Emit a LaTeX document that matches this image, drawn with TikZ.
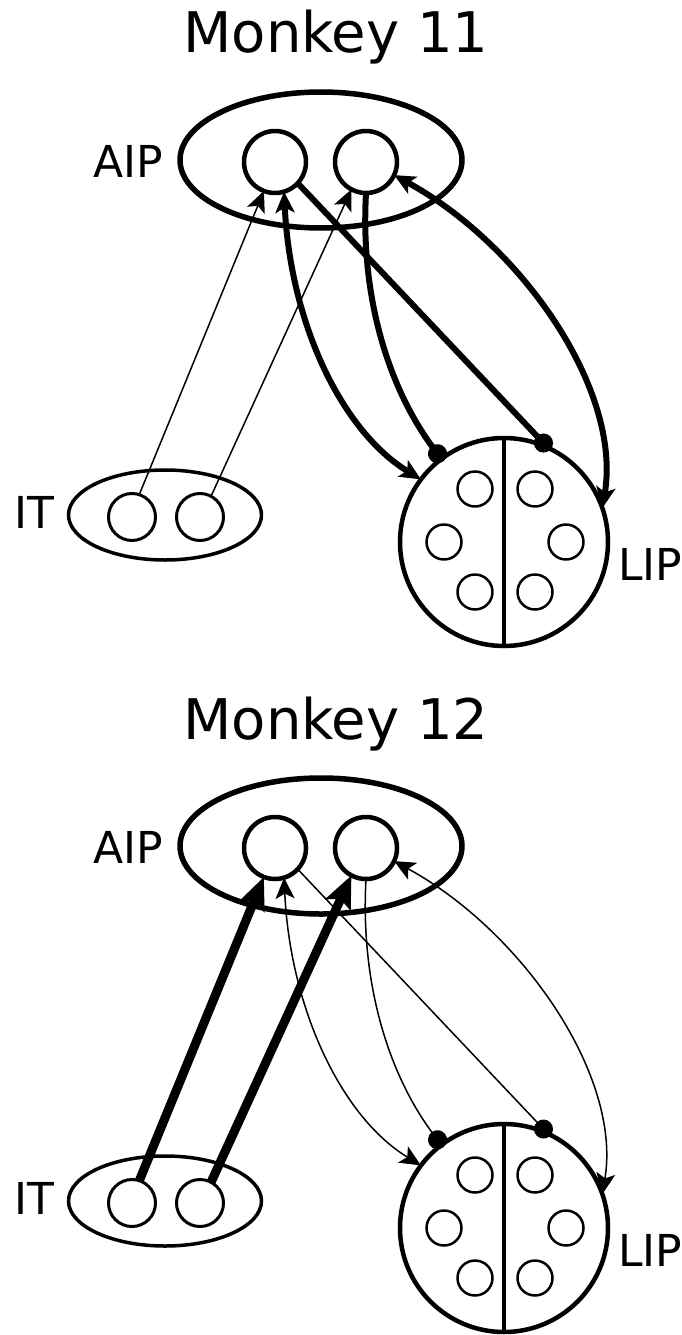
\documentclass[tikz,border=0pt]{standalone}
\usepackage{fontspec}
\setmainfont{DejaVu Sans}
\usetikzlibrary{arrows.meta,shapes.geometric}

\tikzset{
  area/.style={ellipse, draw, inner sep=0pt, outer sep=0pt},
  unit/.style={circle, draw, inner sep=0pt, outer sep=0pt},
  title/.style={font=\fontsize{56}{60}\selectfont, inner sep=0pt, anchor=base},
  arealabel/.style={font=\fontsize{44}{48}\selectfont, inner sep=0pt},
  thinconn/.style={line width=1.5pt},
  thickconn/.style={line width=6pt},
  heavyconn/.style={line width=9pt, >={Stealth[length=32pt,width=27pt,inset=6pt]}},
  dotend/.style={-{Circle[length=19pt]}, shorten >=-3pt},
  >={Stealth[length=21pt,width=19pt,inset=5pt]}
}

% One panel: #1 name prefix, #2 title, #3 vertical offset,
% #4 style of the IT -> AIP links, #5 style of the AIP <-> LIP links
\newcommand{\monkeypanel}[5]{%
\begin{scope}[yshift=-#3pt]
  \node[title] (#1title) at (336,53) {#2};
  % AIP
  \node[area, line width=5.5pt, minimum width=282pt, minimum height=136pt] (#1aip) at (321,160) {};
  \node[unit, line width=4.5pt, minimum size=62pt] (#1aipL) at (275,162) {};
  \node[unit, line width=4.5pt, minimum size=62pt] (#1aipR) at (366,162) {};
  \node[arealabel, anchor=base east] (#1aiplab) at (163,177) {AIP};
  % IT
  \node[area, line width=3.5pt, minimum width=193pt, minimum height=90pt] (#1it) at (165,515) {};
  \node[unit, line width=3pt, minimum size=47pt] (#1itL) at (132,517) {};
  \node[unit, line width=3pt, minimum size=47pt] (#1itR) at (200,517) {};
  \node[arealabel, anchor=base east] (#1itlab) at (55,528) {IT};
  % LIP
  \node[unit, line width=4.5pt, minimum size=208pt] (#1lip) at (504,542) {};
  \draw[line width=3.5pt] (#1lip.north) -- (#1lip.south);
  \foreach \nm/\px/\py in {a/475/489, b/535/489, c/444/542, d/566/542, e/475/592, f/535/592}
    \node[unit, line width=2.5pt, minimum size=35pt] (#1lip\nm) at (\px,\py) {};
  \node[arealabel, anchor=base west] (#1liplab) at (618,580) {LIP};
  % IT -> AIP
  \draw[#4, ->] (#1itL.72) -- (#1aipL.-111);
  \draw[#4, ->] (#1itR.62) -- (#1aipR.-118);
  % AIP <-> LIP
  \draw[#5, <->] (#1aipL.-73) .. controls (290,320) and (340,430) .. (#1lip.143);
  \draw[#5, dotend] (#1aipR.-90) .. controls (360,300) and (390,390) .. (#1lip.127);
  \draw[#5, dotend] (#1aipL.-43) -- (#1lip.65);
  \draw[#5, <->] (#1aipR.-25) .. controls (522,245) and (622,390) .. (#1lip.19);
\end{scope}}

\begin{document}
\begin{tikzpicture}[x=1pt, y=-1pt, line join=round]
  \useasboundingbox (0,0) rectangle (682,1335);
  \monkeypanel{m11}{Monkey 11}{0}{thinconn}{thickconn}
  \monkeypanel{m12}{Monkey 12}{686}{heavyconn}{thinconn}
\end{tikzpicture}
\end{document}
